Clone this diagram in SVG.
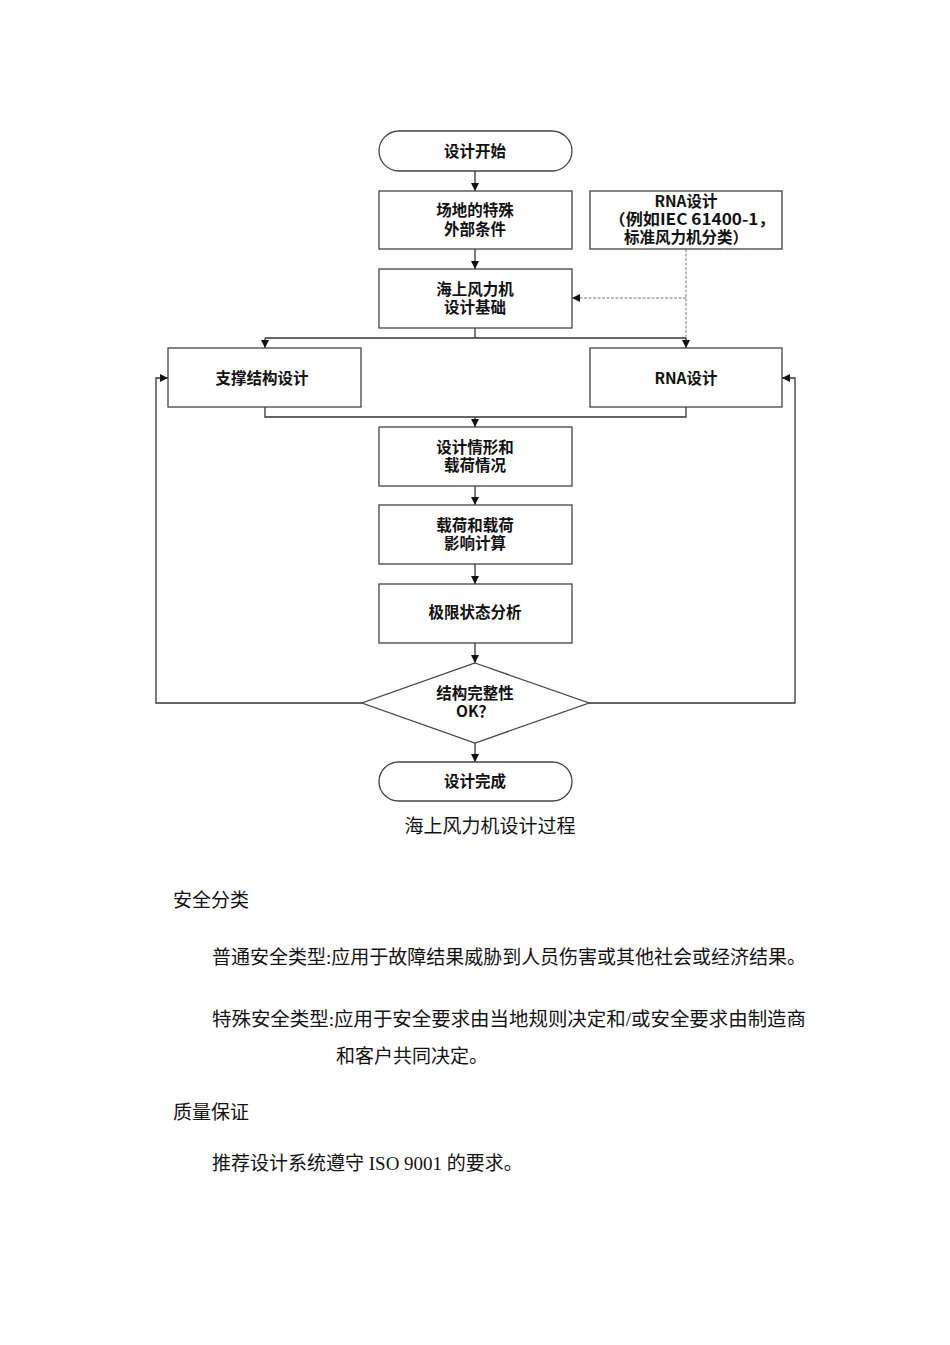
<svg xmlns="http://www.w3.org/2000/svg" width="950" height="1345" viewBox="0 0 950 1345">
<defs>
<marker id="arr" viewBox="0 0 10 10" refX="10" refY="5" markerWidth="8" markerHeight="8" markerUnits="userSpaceOnUse" orient="auto">
<path d="M0,0 L10,5 L0,10 z" fill="#111"/>
</marker>
</defs>
<style>
.box{fill:#fff;stroke:#444;stroke-width:1.3}
.ln{fill:none;stroke:#333;stroke-width:1.3}
.dash{fill:none;stroke:#777;stroke-width:1;stroke-dasharray:3,1.5}
.lbl{font-family:"Noto Sans CJK SC","Liberation Sans",sans-serif;font-weight:bold;font-size:15.5px;fill:#111;text-anchor:middle}
.body{font-family:"Liberation Serif","Noto Sans CJK SC",serif;font-size:19px;fill:#111}
</style>
<rect width="950" height="1345" fill="#fff"/>
<g id="connectors">
<path class="ln" d="M475,171 V191" marker-end="url(#arr)"/>
<path class="ln" d="M475,249 V269" marker-end="url(#arr)"/>
<path class="ln" d="M475,328 V338"/>
<path class="ln" d="M265,338 H686"/>
<path class="ln" d="M265,338 V348" marker-end="url(#arr)"/>
<path class="ln" d="M686,338 V348" marker-end="url(#arr)"/>
<path class="dash" d="M686,249 V338"/>
<path class="dash" d="M686,298 H572" marker-end="url(#arr)"/>
<path class="ln" d="M265,407 V417 H686 V407"/>
<path class="ln" d="M475,417 V427" marker-end="url(#arr)"/>
<path class="ln" d="M475,486 V505" marker-end="url(#arr)"/>
<path class="ln" d="M475,564 V584" marker-end="url(#arr)"/>
<path class="ln" d="M475,643 V663" marker-end="url(#arr)"/>
<path class="ln" d="M475,743 V762" marker-end="url(#arr)"/>
<path class="ln" d="M362,703 H156 V378 H168" marker-end="url(#arr)"/>
<path class="ln" d="M589,703 H795 V378 H782" marker-end="url(#arr)"/>
</g>
<g id="start">
<rect class="box" x="379" y="131" width="193" height="40" rx="20" ry="20"/>
<text class="lbl" x="475" y="157">设计开始</text>
</g>
<g id="site">
<rect class="box" x="379" y="191" width="193" height="58"/>
<text class="lbl" x="475" y="216">场地的特殊</text>
<text class="lbl" x="475" y="234.5">外部条件</text>
</g>
<g id="rna-std">
<rect class="box" x="590" y="191" width="192" height="58"/>
<text class="lbl" x="686" y="207">RNA设计</text>
<text class="lbl" x="692" y="225" textLength="167" lengthAdjust="spacingAndGlyphs">（例如IEC 61400-1，</text>
<text class="lbl" x="686" y="243">标准风力机分类）</text>
</g>
<g id="basis">
<rect class="box" x="379" y="269" width="193" height="59"/>
<text class="lbl" x="475" y="294.5">海上风力机</text>
<text class="lbl" x="475" y="313">设计基础</text>
</g>
<g id="support">
<rect class="box" x="168" y="348" width="193" height="59"/>
<text class="lbl" x="262" y="383.5">支撑结构设计</text>
</g>
<g id="rna">
<rect class="box" x="590" y="348" width="192" height="59"/>
<text class="lbl" x="686" y="383.5">RNA设计</text>
</g>
<g id="cases">
<rect class="box" x="379" y="427" width="193" height="59"/>
<text class="lbl" x="475" y="452.5">设计情形和</text>
<text class="lbl" x="475" y="471">载荷情况</text>
</g>
<g id="calc">
<rect class="box" x="379" y="505" width="193" height="59"/>
<text class="lbl" x="475" y="530.5">载荷和载荷</text>
<text class="lbl" x="475" y="549">影响计算</text>
</g>
<g id="limit">
<rect class="box" x="379" y="584" width="193" height="59"/>
<text class="lbl" x="475" y="617.5">极限状态分析</text>
</g>
<g id="decision">
<polygon class="box" points="475,663 589,703 475,743 362,703"/>
<text class="lbl" x="475" y="698.5">结构完整性</text>
<text class="lbl" x="475" y="717">OK？</text>
</g>
<g id="end">
<rect class="box" x="379" y="762" width="193" height="39" rx="19.5" ry="19.5"/>
<text class="lbl" x="475" y="786.5">设计完成</text>
</g>
<g id="text">
<text class="body" x="490" y="833" text-anchor="middle">海上风力机设计过程</text>
<text class="body" x="173" y="907">安全分类</text>
<text class="body" x="212" y="964" textLength="594" lengthAdjust="spacingAndGlyphs">普通安全类型:应用于故障结果威胁到人员伤害或其他社会或经济结果。</text>
<text class="body" x="212" y="1026" textLength="594" lengthAdjust="spacingAndGlyphs">特殊安全类型:应用于安全要求由当地规则决定和/或安全要求由制造商</text>
<text class="body" x="336" y="1063">和客户共同决定。</text>
<text class="body" x="173" y="1119">质量保证</text>
<text class="body" x="212" y="1170">推荐设计系统遵守 ISO 9001 的要求。</text>
</g>
</svg>
